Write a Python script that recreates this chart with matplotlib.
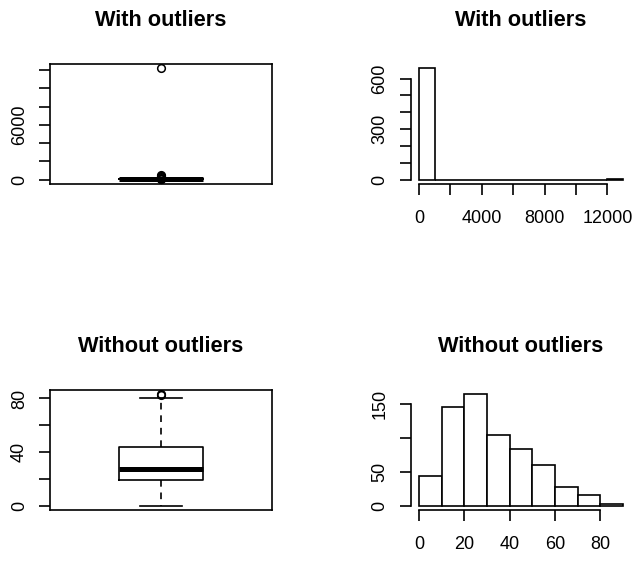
import matplotlib
matplotlib.use("Agg")
import matplotlib.pyplot as plt
import numpy as np

plt.rcParams['font.family'] = ['Liberation Sans', 'DejaVu Sans']

# boxplot summaries
with_q1, with_med, with_q3 = 19, 28, 44
with_whislo, with_whishi = 0, 81
with_fliers = [83, 84, 150, 250, 400, 550, 12170]

without_q1, without_med, without_q3 = 19, 27.5, 44
without_whislo, without_whishi = 0, 80
without_fliers = [82.5, 83]

# histogram with outliers: bins of 1000
with_edges = np.arange(0, 14000, 1000)
with_counts = [660, 0, 0, 0, 0, 0, 0, 0, 0, 0, 0, 0, 1]

# histogram without outliers: bins of 10
without_edges = np.arange(0, 100, 10)
without_counts = [44, 145, 164, 104, 83, 60, 27, 16, 2]

# ticks and labels (R drops labels that would overlap)
tl_yticks = [0, 2000, 4000, 6000, 8000, 10000, 12000]
tl_ylabels = ['0', '', '', '6000', '', '', '']
tr_yticks = [0, 100, 200, 300, 400, 500, 600]
tr_ylabels = ['0', '', '', '300', '', '', '600']
tr_xticks = [0, 2000, 4000, 6000, 8000, 10000, 12000]
tr_xlabels = ['0', '', '4000', '', '8000', '', '12000']
bl_yticks = [0, 20, 40, 60, 80]
bl_ylabels = ['0', '', '40', '', '80']
br_yticks = [0, 50, 100, 150]
br_ylabels = ['0', '50', '', '150']
br_xticks = [0, 20, 40, 60, 80]
br_xlabels = ['0', '20', '40', '60', '80']

W, H = 634, 561
fig = plt.figure(figsize=(W / 100, H / 100), dpi=100)

def box(x0, y0, x1, y1):
    return [x0 / W, 1 - y1 / H, (x1 - x0) / W, (y1 - y0) / H]

LW = 1.2

def style(ax, title):
    ax.set_title(title, fontsize=15.7, fontweight='bold', pad=27)
    ax.tick_params(direction='out', length=8, width=LW, labelsize=13, colors='black')
    ax.tick_params(axis='x', pad=11)
    ax.tick_params(axis='y', pad=8)
    for s in ax.spines.values():
        s.set_linewidth(LW)

def rbox(ax, q1, med, q3, lo, hi, fliers, yticks, ylabels, title):
    stats = [dict(q1=q1, med=med, q3=q3, whislo=lo, whishi=hi, fliers=fliers)]
    ax.bxp(stats, positions=[1], widths=0.41, capwidths=[0.2],
           boxprops=dict(color='black', lw=LW),
           medianprops=dict(color='black', lw=3.6, solid_capstyle='butt'),
           whiskerprops=dict(color='black', lw=LW, linestyle=(0, (4, 3.5))),
           capprops=dict(color='black', lw=LW),
           flierprops=dict(marker='o', markerfacecolor='none', markeredgecolor='black',
                           markersize=5.5, markeredgewidth=1.1))
    dmin = min([lo] + fliers)
    dmax = max([hi] + fliers)
    r = dmax - dmin
    ax.set_ylim(dmin - 0.04 * r, dmax + 0.04 * r)
    ax.set_xlim(0.46, 1.54)
    ax.set_xticks([])
    ax.set_yticks(yticks)
    ax.set_yticklabels(ylabels, rotation=90, va='center')
    style(ax, title)

def rhist(ax, edges, counts, xticks, xlabels, yticks, ylabels, title):
    ax.bar(edges[:-1], counts, width=np.diff(edges), align='edge',
           facecolor='white', edgecolor='black', linewidth=LW)
    x0, x1 = edges[0], edges[-1]
    ax.set_xlim(x0 - 0.04 * (x1 - x0), x1 + 0.04 * (x1 - x0))
    m = max(counts)
    ax.set_ylim(-0.04 * m, 1.04 * m)
    ax.set_xticks(xticks)
    ax.set_xticklabels(xlabels)
    ax.set_yticks(yticks)
    ax.set_yticklabels(ylabels, rotation=90, va='center')
    ax.spines['top'].set_visible(False)
    ax.spines['right'].set_visible(False)
    ax.spines['left'].set_bounds(yticks[0], yticks[-1])
    ax.spines['bottom'].set_bounds(xticks[0], xticks[-1])
    style(ax, title)

ax1 = fig.add_axes(box(50, 64, 272, 184))
rbox(ax1, with_q1, with_med, with_q3, with_whislo, with_whishi, with_fliers,
     tl_yticks, tl_ylabels, 'With outliers')

ax2 = fig.add_axes(box(410.8, 64, 631.3, 184))
rhist(ax2, with_edges, with_counts, tr_xticks, tr_xlabels, tr_yticks, tr_ylabels,
      'With outliers')

ax3 = fig.add_axes(box(50, 390, 272, 510))
rbox(ax3, without_q1, without_med, without_q3, without_whislo, without_whishi,
     without_fliers, bl_yticks, bl_ylabels, 'Without outliers')

ax4 = fig.add_axes(box(410.8, 390, 631.3, 510))
rhist(ax4, without_edges, without_counts, br_xticks, br_xlabels, br_yticks, br_ylabels,
      'Without outliers')

fig.savefig('out.png', dpi=100, facecolor='white')
